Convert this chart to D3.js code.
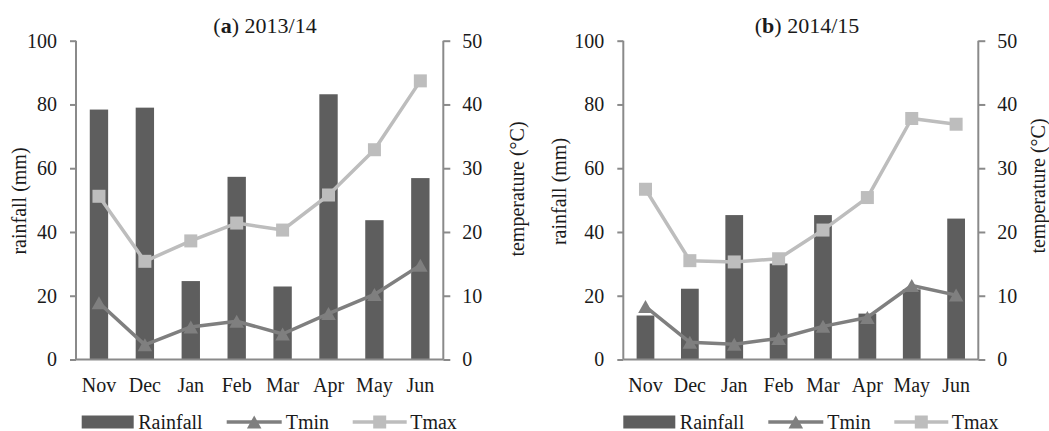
<!DOCTYPE html>
<html>
<head>
<meta charset="utf-8">
<script src="https://cdnjs.cloudflare.com/ajax/libs/d3/7.8.5/d3.min.js"></script>
<style>
  html, body { margin: 0; padding: 0; background: #fff; }
  svg { display: block; }
  text { font-family: "Liberation Serif", "Times New Roman", serif; fill: #1a1a1a; }
</style>
</head>
<body>
<svg id="chart" width="1049" height="431"></svg>
<script>
// ---- data ----
const months = ["Nov", "Dec", "Jan", "Feb", "Mar", "Apr", "May", "Jun"];
const rain1314 = [78.4, 79.0, 24.6, 57.3, 22.9, 83.2, 43.7, 56.9];
const tmin1314 = [8.9, 2.3, 5.1, 6.0, 4.0, 7.2, 10.2, 14.8];
const tmax1314 = [25.6, 15.4, 18.6, 21.4, 20.3, 25.8, 32.9, 43.7];
const rain1415 = [13.8, 22.2, 45.3, 30.1, 45.3, 14.4, 22.0, 44.2];
const tmin1415 = [8.3, 2.7, 2.4, 3.3, 5.2, 6.6, 11.6, 10.1];
const tmax1415 = [26.7, 15.5, 15.3, 15.8, 20.3, 25.4, 37.8, 36.9];
const rainTicks = [0, 20, 40, 60, 80, 100];
const tempTicks = [0, 10, 20, 30, 40, 50];
const legendLabels = ["Rainfall", "Tmin", "Tmax"];

const panels = [
  { tag: "a", year: "2013/14", rain: rain1314, tmin: tmin1314, tmax: tmax1314,
    x0: 76, x1: 443.3, titleX: 265, rainLab: [26, 201], tempLab: [524, 189], legX: 81.7 },
  { tag: "b", year: "2014/15", rain: rain1415, tmin: tmin1415, tmax: tmax1415,
    x0: 623.3, x1: 978.3, titleX: 807, rainLab: [566, 191.5], tempLab: [1045, 186], legX: 623.3 }
];

const C = { bar: "#5e5e5e", tmin: "#7f7f7f", tmax: "#bdbdbd", axis: "#8a8a8a" };
const yTop = 40.7, yBot = 359.5;
const svg = d3.select("#chart");

function triPath(cx, cy, s) {
  const w = s * 0.56, h = s * 0.5;
  return `M${cx},${cy - h}L${cx + w},${cy + h}L${cx - w},${cy + h}Z`;
}

panels.forEach(p => {
  const g = svg.append("g");
  const x = d3.scaleBand().domain(months).range([p.x0, p.x1]).paddingInner(0.6).paddingOuter(0.3);
  const yR = d3.scaleLinear().domain([0, 100]).range([yBot, yTop]);
  const yT = d3.scaleLinear().domain([0, 50]).range([yBot, yTop]);
  const cx = m => x(m) + x.bandwidth() / 2;

  // bars
  g.selectAll("rect.bar").data(months).join("rect")
    .attr("x", m => x(m)).attr("width", x.bandwidth())
    .attr("y", (m, i) => yR(p.rain[i])).attr("height", (m, i) => yBot - yR(p.rain[i]))
    .attr("fill", C.bar);

  // axes
  const axL = d3.axisLeft(yR).tickValues(rainTicks).tickSize(6).tickPadding(13);
  const axR = d3.axisRight(yT).tickValues(tempTicks).tickSize(7).tickPadding(12);
  const axB = d3.axisBottom(x).tickSize(0).tickPadding(18);
  const gl = g.append("g").attr("transform", `translate(${p.x0},0)`).call(axL);
  const gr = g.append("g").attr("transform", `translate(${p.x1},0)`).call(axR);
  const gb = g.append("g").attr("transform", `translate(0,${yBot})`).call(axB);
  [gl, gr, gb].forEach(a => {
    a.select(".domain").remove();
    a.selectAll("line").attr("stroke", C.axis).attr("stroke-width", 2);
    a.selectAll("text").attr("font-size", 20).attr("font-family", "Liberation Serif").attr("fill", "#1a1a1a");
  });
  g.append("line").attr("x1", p.x0).attr("x2", p.x0).attr("y1", yTop).attr("y2", yBot)
    .attr("stroke", C.axis).attr("stroke-width", 2);
  g.append("line").attr("x1", p.x1).attr("x2", p.x1).attr("y1", yTop).attr("y2", yBot)
    .attr("stroke", C.axis).attr("stroke-width", 2);
  g.append("line").attr("x1", p.x0).attr("x2", p.x1).attr("y1", yBot).attr("y2", yBot)
    .attr("stroke", C.axis).attr("stroke-width", 2);

  // lines
  const lineT = d3.line().x(d => cx(d.m)).y(d => yT(d.v));
  const tminData = months.map((m, i) => ({ m, v: p.tmin[i] }));
  const tmaxData = months.map((m, i) => ({ m, v: p.tmax[i] }));
  g.append("path").datum(tmaxData).attr("d", lineT).attr("fill", "none")
    .attr("stroke", C.tmax).attr("stroke-width", 3.5).attr("stroke-linejoin", "round");
  g.selectAll("rect.sq").data(tmaxData).join("rect")
    .attr("x", d => cx(d.m) - 6.5).attr("y", d => yT(d.v) - 6.5)
    .attr("width", 13).attr("height", 13).attr("fill", C.tmax);
  g.append("path").datum(tminData).attr("d", lineT).attr("fill", "none")
    .attr("stroke", C.tmin).attr("stroke-width", 3.5).attr("stroke-linejoin", "round");
  g.selectAll("path.tri").data(tminData).join("path")
    .attr("d", d => triPath(cx(d.m), yT(d.v), 13)).attr("fill", C.tmin);

  // title
  const t = g.append("text").attr("x", p.titleX).attr("y", 33).attr("text-anchor", "middle")
    .attr("font-size", 22);
  t.append("tspan").text("(");
  t.append("tspan").attr("font-weight", "bold").text(p.tag);
  t.append("tspan").text(") " + p.year);

  // axis titles
  g.append("text").attr("transform", `translate(${p.rainLab[0]},${p.rainLab[1]}) rotate(-90)`)
    .attr("text-anchor", "middle").attr("font-size", 20).text("rainfall (mm)");
  g.append("text").attr("transform", `translate(${p.tempLab[0]},${p.tempLab[1]}) rotate(-90)`)
    .attr("text-anchor", "middle").attr("font-size", 20).text("temperature (°C)");

  // legend
  const L = g.append("g").attr("transform", `translate(${p.legX},0)`);
  const ly = 422;
  L.append("rect").attr("x", 0).attr("y", ly - 6.5).attr("width", 52).attr("height", 13).attr("fill", C.bar);
  L.append("text").attr("x", 56.5).attr("y", 428.5).attr("font-size", 20).text(legendLabels[0]);
  L.append("line").attr("x1", 145).attr("x2", 200).attr("y1", ly).attr("y2", ly)
    .attr("stroke", C.tmin).attr("stroke-width", 3.5);
  L.append("path").attr("d", triPath(172.5, ly, 13)).attr("fill", C.tmin);
  L.append("text").attr("x", 204).attr("y", 428.5).attr("font-size", 20).text(legendLabels[1]);
  L.append("line").attr("x1", 271).attr("x2", 325).attr("y1", ly).attr("y2", ly)
    .attr("stroke", C.tmax).attr("stroke-width", 3.5);
  L.append("rect").attr("x", 298 - 6.5).attr("y", ly - 6.5).attr("width", 13).attr("height", 13).attr("fill", C.tmax);
  L.append("text").attr("x", 328.5).attr("y", 428.5).attr("font-size", 20).text(legendLabels[2]);
});
</script>
</body>
</html>
